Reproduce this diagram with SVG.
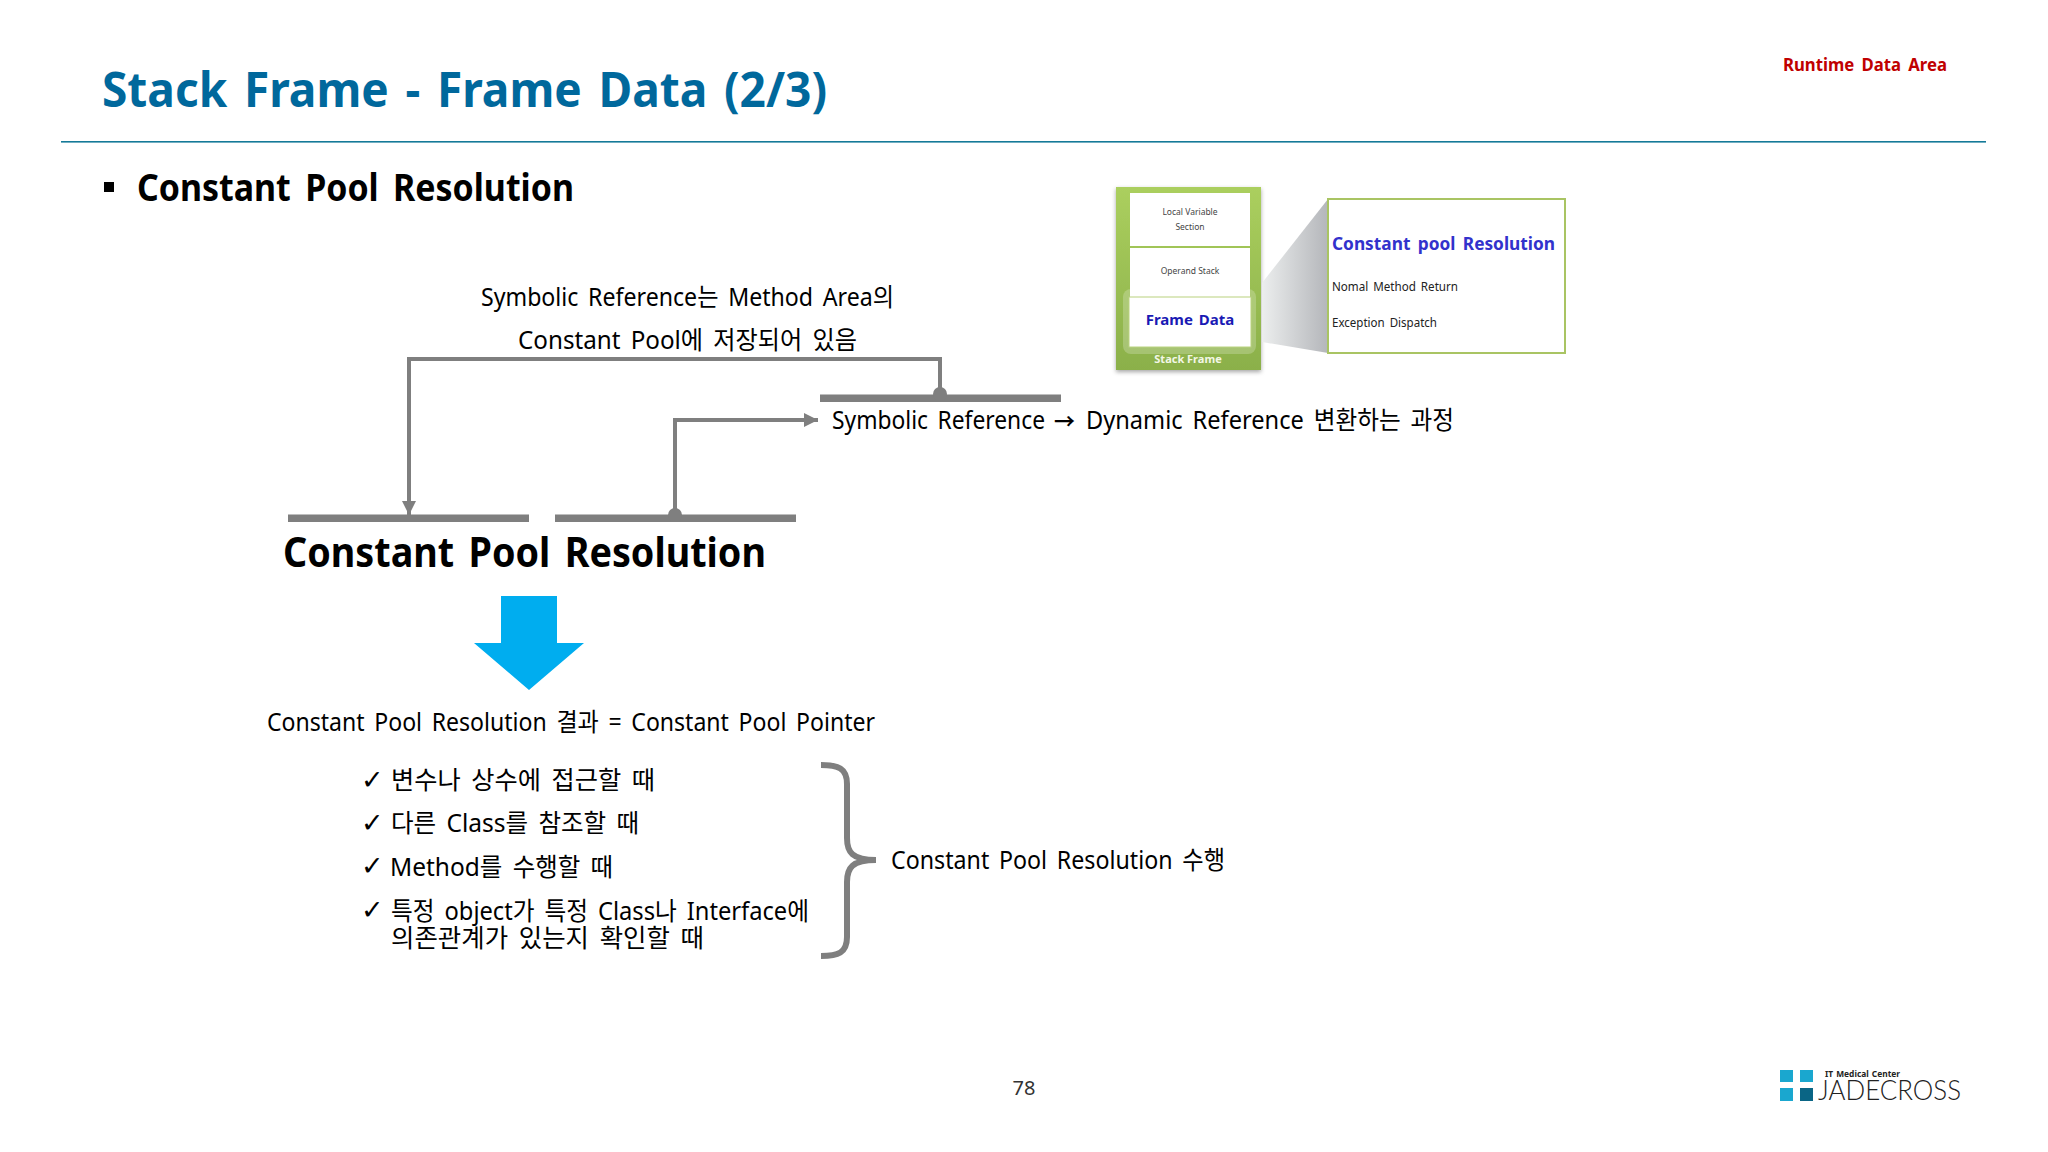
<svg xmlns="http://www.w3.org/2000/svg" width="2048" height="1152" viewBox="0 0 2048 1152">
<style>
text{font-family:"Noto Sans","Noto Sans CJK KR",sans-serif;fill:#000}
.b{font-weight:700}
.body{font-size:25px;word-spacing:4px}
.bar{fill:#7f7f7f}
.conn{fill:none;stroke:#7f7f7f;stroke-width:4}
.chk{font-family:"DejaVu Sans",sans-serif;font-size:27px}
.cell{fill:#fff}
.small{fill:#444;font-size:8.5px;text-anchor:middle}
.note{font-size:12px;word-spacing:2px;fill:#222}
.logo{fill:#1aa7cf}
</style>
<defs>
<marker id="tri" markerUnits="userSpaceOnUse" markerWidth="15" markerHeight="16" refX="14" refY="8" orient="auto"><path d="M0 1L14 8L0 15Z" fill="#7f7f7f"/></marker>
<marker id="dot" markerUnits="userSpaceOnUse" markerWidth="16" markerHeight="16" refX="8" refY="8"><circle cx="8" cy="8" r="7" fill="#7f7f7f"/></marker>
<linearGradient id="panel" x1="0" y1="0" x2="0" y2="1"><stop offset="0" stop-color="#abcf5e"/><stop offset="1" stop-color="#8bb04a"/></linearGradient>
<linearGradient id="wedge" x1="0" y1="0" x2="1" y2="0"><stop offset="0" stop-color="#eceeee"/><stop offset="1" stop-color="#b4b6ba"/></linearGradient>
<filter id="sh" x="-10%" y="-10%" width="120%" height="120%"><feDropShadow dx="0" dy="2" stdDeviation="2" flood-color="#000" flood-opacity=".35"/></filter>
</defs>
<g id="header">
<text x="102" y="107" class="b" font-size="49" textLength="725" lengthAdjust="spacingAndGlyphs" style="fill:#00689c;word-spacing:5px">Stack Frame - Frame Data (2/3)</text>
<text x="1783" y="71" class="b" font-size="17.5" textLength="164" lengthAdjust="spacingAndGlyphs" style="fill:#c00000;word-spacing:3px">Runtime Data Area</text>
<rect x="61" y="141" width="1925" height="1.6" fill="#157a98"/>
<rect x="104" y="182" width="10" height="10" fill="#000"/>
<text x="137" y="201" class="b" font-size="37" textLength="437" lengthAdjust="spacingAndGlyphs" style="word-spacing:6px">Constant Pool Resolution</text>
</g>
<g id="stack-frame">
<rect x="1116" y="187" width="145" height="183" fill="url(#panel)" filter="url(#sh)"/>
<rect x="1130" y="193" width="120" height="53" class="cell"/>
<rect x="1130" y="248" width="120" height="49" class="cell"/>
<rect x="1123" y="289" width="133" height="65" rx="8" fill="#fff" opacity=".22"/>
<rect x="1129" y="297" width="122" height="50" class="cell" stroke="#b9d27f"/>
<text x="1190" y="215" class="small">Local Variable</text>
<text x="1190" y="230" class="small">Section</text>
<text x="1190" y="274" class="small">Operand Stack</text>
<text x="1190" y="325" class="b" font-size="15" text-anchor="middle" style="fill:#1a1ab4;word-spacing:2px">Frame Data</text>
<text x="1188" y="363" class="b" font-size="11" text-anchor="middle" style="fill:#f3f7e6">Stack Frame</text>
</g>
<g id="frame-data-detail">
<polygon points="1262,283 1328,199 1328,353 1262,342" fill="url(#wedge)"/>
<rect x="1328" y="199" width="237" height="154" fill="#fff" stroke="#a9c463" stroke-width="2"/>
<text x="1332" y="250" class="b" font-size="18" textLength="223" lengthAdjust="spacingAndGlyphs" style="fill:#3232cc;word-spacing:3px">Constant pool Resolution</text>
<text x="1332" y="291" class="note" textLength="126" lengthAdjust="spacingAndGlyphs">Nomal Method Return</text>
<text x="1332" y="327" class="note" textLength="105" lengthAdjust="spacingAndGlyphs">Exception Dispatch</text>
</g>
<g id="note-symbolic-area">
<text x="481" y="306" class="body" textLength="413" lengthAdjust="spacingAndGlyphs">Symbolic Reference는 Method Area의</text>
<text x="518" y="349" class="body" textLength="339" lengthAdjust="spacingAndGlyphs">Constant Pool에 저장되어 있음</text>
</g>
<g id="symbolic-reference">
<rect x="820" y="394.5" width="241" height="7.5" class="bar"/>
<text y="429" class="body"><tspan x="832" textLength="213" lengthAdjust="spacingAndGlyphs">Symbolic Reference</tspan> <tspan x="1054" class="b" font-size="21" textLength="21" lengthAdjust="spacingAndGlyphs">→</tspan> <tspan x="1086" textLength="368" lengthAdjust="spacingAndGlyphs">Dynamic Reference 변환하는 과정</tspan></text>
</g>
<g id="constant-pool-resolution">
<rect x="288" y="514.5" width="241" height="7.5" class="bar"/>
<rect x="555" y="514.5" width="241" height="7.5" class="bar"/>
<text x="283" y="567" class="b" font-size="42" textLength="483" lengthAdjust="spacingAndGlyphs" style="word-spacing:5px">Constant Pool Resolution</text>
</g>
<g id="result-arrow"><polygon points="501,596 557,596 557,643 584,643 529,690 474,643 501,643" fill="#00adef"/></g>
<g id="result">
<text x="267" y="731" class="body" textLength="608" lengthAdjust="spacingAndGlyphs">Constant Pool Resolution 결과 = Constant Pool Pointer</text>
</g>
<g id="conditions">
<text x="361" y="789" class="chk">✓</text><text x="391" y="789" class="body" textLength="264" lengthAdjust="spacingAndGlyphs">변수나 상수에 접근할 때</text>
<text x="361" y="832" class="chk">✓</text><text x="391" y="832" class="body" textLength="248" lengthAdjust="spacingAndGlyphs">다른 Class를 참조할 때</text>
<text x="361" y="875" class="chk">✓</text><text x="390" y="876" class="body" textLength="223" lengthAdjust="spacingAndGlyphs">Method를 수행할 때</text>
<text x="361" y="919" class="chk">✓</text><text x="391" y="920" class="body" textLength="418" lengthAdjust="spacingAndGlyphs">특정 object가 특정 Class나 Interface에</text>
<text x="391" y="947" class="body" textLength="313" lengthAdjust="spacingAndGlyphs">의존관계가 있는지 확인할 때</text>
</g>
<g id="brace">
<path d="M821 765C838 765 847 768 847 784V838C847 852 852 860 876 860C852 860 847 868 847 882V937C847 953 838 956 821 956" fill="none" stroke="#7f7f7f" stroke-width="6"/>
<text x="891" y="869" class="body" textLength="334" lengthAdjust="spacingAndGlyphs">Constant Pool Resolution 수행</text>
</g>
<g id="connectors">
<path class="conn" d="M940 394V359H409V515" marker-start="url(#dot)" marker-end="url(#tri)"/>
<path class="conn" d="M675 515V420H818" marker-start="url(#dot)" marker-end="url(#tri)"/>
</g>
<g id="footer">
<text x="1024" y="1095" font-size="20" text-anchor="middle" style="fill:#333">78</text>
<rect x="1780" y="1070" width="13" height="12" class="logo"/>
<rect x="1800" y="1070" width="13" height="12" class="logo"/>
<rect x="1780" y="1088" width="13" height="13" class="logo"/>
<rect x="1800" y="1088" width="13" height="13" fill="#0a6585"/>
<text x="1825" y="1077" class="b" font-size="8.5" textLength="75" lengthAdjust="spacingAndGlyphs" style="word-spacing:1px;fill:#222">IT Medical Center</text>
<text x="1818" y="1100" font-size="28" font-weight="300" textLength="143" lengthAdjust="spacingAndGlyphs" style="font-family:'Lato','Liberation Sans',sans-serif;fill:#222">JADECROSS</text>
</g>
</svg>
